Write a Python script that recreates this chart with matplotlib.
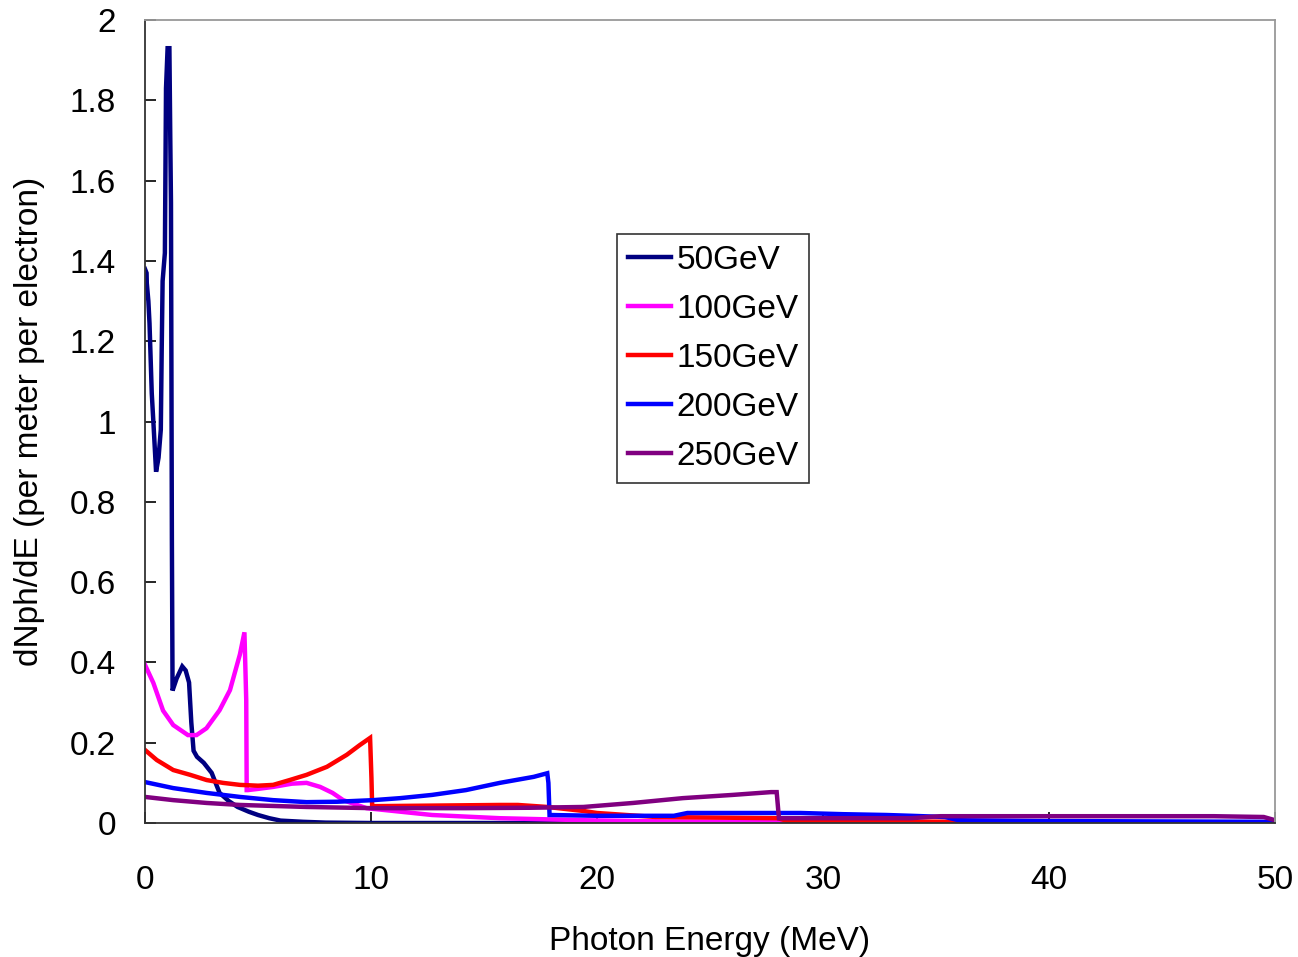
import matplotlib
matplotlib.use("Agg")
import matplotlib.pyplot as plt
from matplotlib.ticker import FixedLocator, FixedFormatter

plt.rcParams["font.family"] = ["Liberation Sans", "DejaVu Sans"]

# photon spectra, one pair of lists per beam energy
e50_x = [0, 0.07, 0.08, 0.15, 0.2, 0.3, 0.38, 0.49, 0.6, 0.7, 0.74, 0.78, 0.88, 0.93,
         1.0, 1.08, 1.12, 1.15, 1.19, 1.22, 1.4, 1.65, 1.8, 1.95, 2.05, 2.15, 2.3, 2.6,
         2.95, 3.3, 3.7, 4.1, 4.6, 5.0, 5.5, 6.0, 7.0, 8.0, 10, 20, 50]
e50_y = [1.38, 1.37, 1.345, 1.30, 1.245, 1.07, 0.99, 0.875, 0.91, 0.98, 1.18, 1.35, 1.42,
         1.83, 1.93, 1.93, 1.70, 1.545, 0.705, 0.33, 0.36, 0.39, 0.38, 0.35, 0.25, 0.18,
         0.165, 0.15, 0.125, 0.075, 0.055, 0.04, 0.028, 0.02, 0.012, 0.006, 0.003, 0.001,
         0, 0, 0]

e100_x = [0, 0.37, 0.8, 1.25, 1.9, 2.28, 2.72, 3.3, 3.76, 4.2, 4.4, 4.48, 4.5, 4.55, 5.0,
          5.68, 6.5, 7.15, 7.75, 8.3, 8.77, 9.8, 11.0, 12.7, 15.7, 19.4, 23, 28, 35, 50]
e100_y = [0.394, 0.349, 0.28, 0.244, 0.219, 0.219, 0.236, 0.281, 0.331, 0.42, 0.475, 0.306,
          0.082, 0.082, 0.085, 0.09, 0.098, 0.1, 0.09, 0.075, 0.057, 0.037, 0.03, 0.02,
          0.012, 0.007, 0.004, 0.003, 0.001, 0]

e150_x = [0, 0.52, 1.25, 2.0, 2.73, 3.45, 4.2, 5.0, 5.67, 6.4, 7.15, 8.05, 8.93, 9.5, 9.96,
          10.02, 10.05, 10.1, 12, 15.7, 16.5, 17.8, 19.4, 20, 22.6, 28, 28.5, 39.5, 40, 50]
e150_y = [0.182, 0.157, 0.132, 0.12, 0.107, 0.1, 0.095, 0.093, 0.095, 0.107, 0.12, 0.14,
          0.17, 0.194, 0.212, 0.112, 0.045, 0.042, 0.043, 0.045, 0.045, 0.04, 0.03, 0.025,
          0.015, 0.012, 0.004, 0.003, 0, 0]

e200_x = [0, 1.25, 2.72, 4.2, 5.67, 7.15, 8.5, 10.1, 11.3, 12.7, 14.2, 15.7, 17.2, 17.8,
          17.85, 17.9, 20, 23.4, 24, 29, 30.9, 32.8, 33.9, 35.4, 36, 39.5, 50]
e200_y = [0.102, 0.087, 0.075, 0.065, 0.057, 0.052, 0.053, 0.057, 0.062, 0.07, 0.082, 0.1,
          0.115, 0.124, 0.1, 0.02, 0.018, 0.018, 0.025, 0.025, 0.022, 0.02, 0.018, 0.015,
          0.007, 0.005, 0.003]

e250_x = [0, 1.25, 2.72, 4.2, 7.15, 10.1, 14.2, 17, 19.4, 21.6, 23.8, 26, 27.7, 27.95,
          28.05, 33.9, 35.2, 47.3, 49.5, 50]
e250_y = [0.065, 0.057, 0.05, 0.045, 0.04, 0.037, 0.037, 0.038, 0.04, 0.05, 0.062, 0.07,
          0.077, 0.077, 0.012, 0.012, 0.017, 0.017, 0.015, 0.007]

labels = ["50GeV", "100GeV", "150GeV", "200GeV", "250GeV"]
colors = ["#000080", "#ff00ff", "#ff0000", "#0000ff", "#800080"]

y_ticks = [0, 0.2, 0.4, 0.6, 0.8, 1.0, 1.2, 1.4, 1.6, 1.8, 2.0]
y_ticklabels = ["0", "0.2", "0.4", "0.6", "0.8", "1", "1.2", "1.4", "1.6", "1.8", "2"]
x_ticks = [0, 10, 20, 30, 40, 50]

fig = plt.figure(figsize=(12.98, 9.57), dpi=100)
ax = fig.add_axes([0.1117, 0.140, 0.8706, 0.839])

series = [(e50_x, e50_y), (e100_x, e100_y), (e150_x, e150_y),
          (e200_x, e200_y), (e250_x, e250_y)]
for (xs, ys), lab, c in zip(series, labels, colors):
    ax.plot(xs, ys, color=c, lw=3.2, label=lab, solid_joinstyle="miter")

ax.set_xlim(0, 50)
ax.set_ylim(0, 2)
ax.yaxis.set_major_locator(FixedLocator(y_ticks))
ax.yaxis.set_major_formatter(FixedFormatter(y_ticklabels))
ax.xaxis.set_major_locator(FixedLocator(x_ticks))

ax.tick_params(axis="both", direction="in", length=8, width=1.2, labelsize=24,
               top=False, right=False)
ax.tick_params(axis="y", pad=21)
ax.tick_params(axis="x", pad=30)

for s in ["left", "bottom"]:
    ax.spines[s].set_color("#333333")
    ax.spines[s].set_linewidth(1.3)
for s in ["top", "right"]:
    ax.spines[s].set_color("#999999")
    ax.spines[s].set_linewidth(1.3)

ax.set_xlabel("Photon Energy (MeV)", fontsize=24, labelpad=22)
ax.set_ylabel("dNph/dE (per meter per electron)", fontsize=24, labelpad=18)

leg = ax.legend(loc="upper left", bbox_to_anchor=(0.418, 0.733), fontsize=24,
                frameon=True, fancybox=False, edgecolor="black", handlelength=1.3,
                handletextpad=0.15, labelspacing=0.54, borderpad=0.32,
                borderaxespad=0)
leg.get_frame().set_linewidth(1.2)

fig.savefig("out.png", dpi=100)
